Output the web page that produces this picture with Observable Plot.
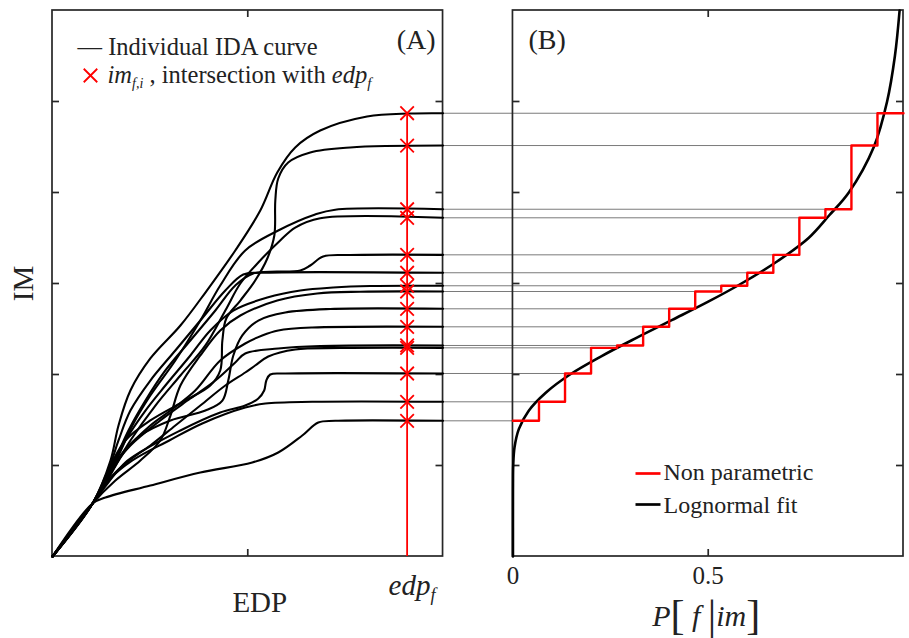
<!DOCTYPE html>
<html>
<head>
<meta charset="utf-8">
<script src="https://cdn.jsdelivr.net/npm/d3@7"></script>
<script src="https://cdn.jsdelivr.net/npm/@observablehq/plot@0.6"></script>
<style>
  body { margin: 0; background: #fff; }
  #chart { width: 909px; height: 638px; }
</style>
</head>
<body>
<div id="chart"></div>
<script>
// ---------------- data ----------------
// EDP in arbitrary units (panel A spans 0..2), IM in arbitrary units (0..6)
const edpMax = 2;
const imMax = 6;
const edpF = 1.816;                 // edp_f threshold
const imTicks = [1, 2, 3, 4, 5];
const edpTicks = [1];
const pTicks = [0.5];
const pTickLabels = [0, 0.5];

// intersections im_{f,i} of each IDA curve with edp_f
const imAtEdpF = [4.871, 4.516, 3.816, 3.722, 3.315, 3.118, 2.975, 2.912, 2.722, 2.524, 2.319, 2.293, 2.011, 1.700, 1.491];

// individual IDA curves: [edp, im] points
const idaCurves = [
  [[0,0],[0.205,0.582],[0.271,0.648],[0.501,0.780],[0.757,0.923],[1.023,1.033],[1.156,1.143],[1.279,1.330],[1.361,1.473],[1.448,1.491],[2.0,1.491]],
  [[0,0],[0.205,0.582],[0.297,0.857],[0.409,1.055],[0.598,1.275],[0.767,1.462],[0.987,1.637],[1.090,1.681],[1.330,1.700],[2.0,1.700]],
  [[0,0],[0.205,0.582],[0.307,0.890],[0.450,1.143],[0.655,1.385],[0.859,1.582],[0.987,1.659],[1.054,1.736],[1.084,1.824],[1.095,1.934],[1.115,2.000],[1.192,2.011],[2.0,2.011]],
  [[0,0],[0.205,0.582],[0.286,0.813],[0.373,1.033],[0.501,1.220],[0.629,1.440],[0.757,1.659],[0.885,1.879],[0.987,2.022],[1.038,2.099],[1.105,2.198],[1.243,2.275],[1.473,2.291],[2.0,2.293]],
  [[0,0],[0.205,0.582],[0.297,0.945],[0.399,1.220],[0.552,1.495],[0.706,1.736],[0.834,1.934],[0.936,2.132],[0.987,2.231],[1.156,2.286],[1.371,2.313],[2.0,2.319]],
  [[0,0],[0.205,0.582],[0.286,0.857],[0.373,1.165],[0.501,1.440],[0.604,1.604],[0.731,1.824],[0.859,2.154],[0.987,2.341],[1.074,2.429],[1.156,2.484],[1.330,2.516],[2.0,2.524]],
  [[0,0],[0.205,0.582],[0.271,0.835],[0.348,1.110],[0.450,1.330],[0.604,1.495],[0.783,1.604],[0.870,1.714],[0.900,1.934],[0.926,2.209],[0.972,2.429],[1.054,2.593],[1.192,2.681],[1.422,2.720],[2.0,2.722]],
  [[0,0],[0.205,0.582],[0.322,0.835],[0.450,1.055],[0.552,1.275],[0.604,1.549],[0.655,1.879],[0.757,2.209],[0.859,2.484],[0.962,2.648],[1.151,2.813],[1.355,2.890],[1.575,2.910],[2.0,2.912]],
  [[0,0],[0.205,0.582],[0.297,0.967],[0.373,1.275],[0.476,1.604],[0.578,1.879],[0.706,2.209],[0.808,2.484],[0.926,2.703],[1.100,2.846],[1.269,2.923],[1.437,2.956],[1.627,2.973],[2.0,2.975]],
  [[0,0],[0.205,0.582],[0.286,0.945],[0.338,1.275],[0.399,1.604],[0.501,1.934],[0.629,2.264],[0.757,2.593],[0.885,2.923],[0.977,3.099],[1.064,3.118],[2.0,3.118]],
  [[0,0],[0.205,0.582],[0.307,1.000],[0.389,1.385],[0.476,1.714],[0.578,2.044],[0.706,2.374],[0.834,2.703],[0.936,2.978],[1.028,3.110],[1.269,3.143],[1.320,3.198],[1.386,3.297],[1.524,3.313],[2.0,3.315]],
  [[0,0],[0.205,0.582],[0.307,0.945],[0.399,1.275],[0.527,1.659],[0.655,1.989],[0.783,2.319],[0.885,2.703],[0.962,3.000],[1.054,3.231],[1.166,3.473],[1.243,3.615],[1.371,3.718],[2.0,3.722]],
  [[0,0],[0.205,0.582],[0.271,0.835],[0.338,1.110],[0.409,1.440],[0.501,1.769],[0.629,2.154],[0.757,2.593],[0.859,2.978],[0.987,3.363],[1.156,3.582],[1.345,3.758],[1.448,3.811],[2.0,3.816]],
  [[0,0],[0.205,0.582],[0.297,1.000],[0.373,1.275],[0.501,1.495],[0.680,1.714],[0.808,1.879],[0.859,2.044],[0.870,2.374],[0.890,2.615],[0.962,2.813],[1.038,3.033],[1.100,3.275],[1.136,3.527],[1.141,3.912],[1.156,4.154],[1.207,4.330],[1.320,4.440],[1.524,4.495],[2.0,4.516]],
  [[0,0],[0.205,0.582],[0.297,1.055],[0.338,1.440],[0.399,1.824],[0.501,2.176],[0.655,2.538],[0.783,2.901],[0.936,3.363],[1.064,3.802],[1.151,4.220],[1.243,4.495],[1.371,4.681],[1.611,4.835],[1.831,4.868],[2.0,4.871]]
];

// lognormal fit: IM level and P[f|im]
const fitIM = [0, 0.6, 0.8, 1.0, 1.2, 1.4, 1.6, 1.8, 2.0, 2.2, 2.4, 2.6, 2.8, 3.0, 3.25, 3.5, 3.75, 4.0, 4.5, 5.0, 5.5, 6.0];
const fitP  = [0, 0, 0.0001, 0.0007, 0.004, 0.015, 0.040, 0.084, 0.146, 0.226, 0.315, 0.408, 0.500, 0.585, 0.679, 0.757, 0.810, 0.860, 0.924, 0.958, 0.978, 0.990];

// ---------------- layout helpers ----------------
const panelB0 = 2.358;          // where panel B starts on the shared horizontal scale
const toB = p => panelB0 + edpMax * p;   // P in [0,1] -> shared horizontal position
const tickLenX = 0.036, tickLenY = 0.077;
const frameColor = "#262626";
const textColor = "#222";
const font = "Liberation Serif";

// ---------------- derived tables ----------------
const idaRows = idaCurves.flatMap((c, id) => c.map(([edp, im]) => ({id, edp, im})));
const sortedIM = imAtEdpF.slice().sort((a, b) => a - b);
const n = sortedIM.length;
const stepRows = sortedIM.map((im, i) => ({p: i / n, im})).concat([{p: 1, im: sortedIM[n - 1]}]);
const connectorRows = sortedIM.map((im, i) => ({p: i / n, im}));
const fitRows = fitIM.map((im, i) => ({im, p: fitP[i]}));

const panels = [
  {x1: 0, x2: edpMax, y1: 0, y2: imMax},
  {x1: toB(0), x2: toB(1), y1: 0, y2: imMax}
];
const edges = [[0, 1], [edpMax, -1], [toB(0), 1], [toB(1), -1]];
const yTickRows = imTicks.flatMap(t => edges.map(([e, dir]) => ({y: t, x1: e, x2: e + dir * tickLenX})));
const xTickPositions = edpTicks.concat(pTicks.map(toB));
const xTickRows = xTickPositions.flatMap(x => [{x, y1: 0, y2: tickLenY}, {x, y1: imMax - tickLenY, y2: imMax}]);

const lineSymbol = {
  draw(context, size) {
    const r = Math.sqrt(size / Math.PI);
    context.moveTo(-r, 0);
    context.lineTo(r, 0);
  }
};

const richText = {
  "imf,i , intersection with edpf":
    '<tspan font-style="italic">im</tspan><tspan font-style="italic" font-size="14" dy="5">f,i</tspan><tspan dy="-5"> , intersection with </tspan><tspan font-style="italic">edp</tspan><tspan font-style="italic" font-size="15" dy="5">f</tspan>',
  "edpf":
    '<tspan font-style="italic">edp</tspan><tspan font-style="italic" font-size="18" dy="6">f</tspan>',
  "P[f|im]":
    '<tspan font-style="italic">P</tspan><tspan font-size="42" dy="3">[</tspan><tspan font-style="italic" dy="-3"> f </tspan><tspan font-size="42" dy="3">|</tspan><tspan font-style="italic" dy="-3">im</tspan><tspan font-size="42" dy="3">]</tspan>'
};

const chart = Plot.plot({
  width: 909,
  height: 638,
  marginLeft: 52,
  marginRight: 6,
  marginTop: 10,
  marginBottom: 82,
  style: {fontFamily: font, background: "#fff", overflow: "visible"},
  x: {domain: [0, toB(1)], axis: null},
  y: {domain: [0, imMax], axis: null},
  marks: [
    // grey connectors from panel A to the empirical steps in panel B
    Plot.ruleY(connectorRows, {y: "im", x1: () => edpMax, x2: d => toB(d.p), stroke: "#7a7a7a", strokeWidth: 1}),
    // frames and inward ticks
    Plot.rect(panels, {x1: "x1", x2: "x2", y1: "y1", y2: "y2", fill: "none", stroke: frameColor, strokeWidth: 1.7}),
    Plot.ruleY(yTickRows, {y: "y", x1: "x1", x2: "x2", stroke: frameColor, strokeWidth: 1.7}),
    Plot.ruleX(xTickRows, {x: "x", y1: "y1", y2: "y2", stroke: frameColor, strokeWidth: 1.7}),
    // panel A: IDA curves
    Plot.line(idaRows, {x: "edp", y: "im", z: "id", curve: "catmull-rom", stroke: "#000", strokeWidth: 2.1}),
    Plot.ruleX([edpF], {x: d => d, y1: 0, y2: d3.max(imAtEdpF), stroke: "#ff0000", strokeWidth: 1.8}),
    Plot.dot(imAtEdpF, {x: () => edpF, y: d => d, symbol: "times", r: 6.2, stroke: "#ff0000", strokeWidth: 1.8}),
    // panel B: lognormal fit and non parametric steps
    Plot.line(fitRows, {x: d => toB(d.p), y: "im", curve: "catmull-rom", stroke: "#000", strokeWidth: 2.6}),
    Plot.line(stepRows, {x: d => toB(d.p), y: "im", curve: "step-after", stroke: "#ff0000", strokeWidth: 2.4}),
    // panel labels
    Plot.text(["(A)"], {x: () => edpMax, y: () => imMax, dx: -7.5, dy: 30, textAnchor: "end", fontSize: 28, fill: textColor}),
    Plot.text(["(B)"], {x: () => toB(0), y: () => imMax, dx: 15.5, dy: 30, textAnchor: "start", fontSize: 28, fill: textColor}),
    // axis labels
    Plot.text(["IM"], {x: () => 0, y: () => imMax / 2, dx: -29, rotate: -90, fontSize: 29, fill: textColor}),
    Plot.text(["EDP"], {x: () => edpMax / 2, y: () => 0, dx: 12, dy: 46.7, fontSize: 29, fill: textColor}),
    Plot.text(["edpf"], {x: () => edpF, y: () => 0, dx: -18.6, dy: 29.7, textAnchor: "start", fontSize: 29, fill: textColor}),
    Plot.text(pTickLabels, {x: d => toB(d), y: () => 0, dy: 19, text: d => String(d), fontSize: 25, fill: textColor}),
    Plot.text(["P[f|im]"], {x: () => toB(0.5), y: () => 0, dx: -2, dy: 59.4, fontSize: 30, fill: textColor}),
    // legend A
    Plot.text(["\u2014 Individual IDA curve"], {frameAnchor: "top-left", lineAnchor: "middle", dx: 25, dy: 36.6, textAnchor: "start", fontSize: 24.5, fill: textColor}),
    Plot.dot([0], {frameAnchor: "top-left", dx: 38, dy: 65, symbol: "times", r: 6.2, stroke: "#ff0000", strokeWidth: 1.8}),
    Plot.text(["imf,i , intersection with edpf"], {frameAnchor: "top-left", lineAnchor: "middle", dx: 55, dy: 64.2, textAnchor: "start", fontSize: 24.5, fill: textColor}),
    // legend B
    Plot.dot([0], {frameAnchor: "top-left", dx: 595.5, dy: 463, symbol: lineSymbol, r: 12.5, fill: "none", stroke: "#ff0000", strokeWidth: 2.7}),
    Plot.dot([0], {frameAnchor: "top-left", dx: 595.5, dy: 494, symbol: lineSymbol, r: 12.5, fill: "none", stroke: "#000", strokeWidth: 2.7}),
    Plot.text(["Non parametric"], {frameAnchor: "top-left", lineAnchor: "middle", dx: 611, dy: 462.3, textAnchor: "start", fontSize: 24, fill: textColor}),
    Plot.text(["Lognormal fit"], {frameAnchor: "top-left", lineAnchor: "middle", dx: 611, dy: 495.3, textAnchor: "start", fontSize: 24, fill: textColor})
  ]
});

chart.querySelectorAll("text").forEach(t => {
  const r = richText[t.textContent];
  if (r) t.innerHTML = r;
});

document.getElementById("chart").appendChild(chart);
</script>
</body>
</html>
